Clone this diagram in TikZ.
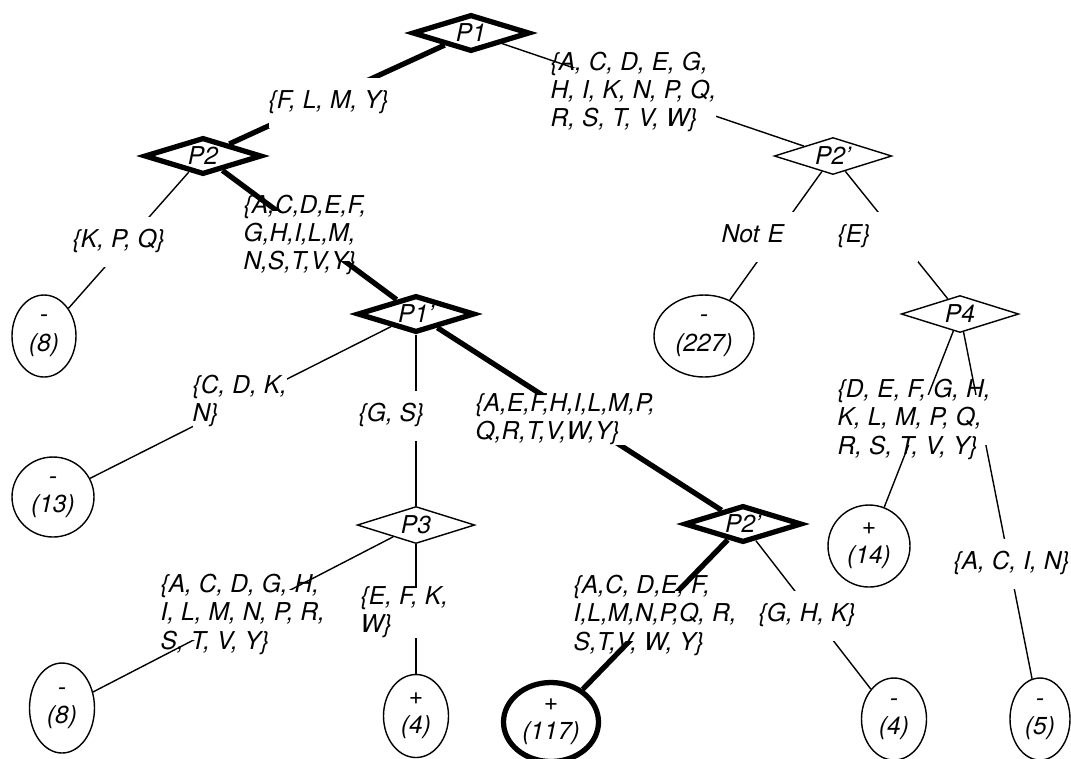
\documentclass[tikz,border=0pt]{standalone}
\usepackage{fontspec}
\setmainfont{TeX Gyre Heros}
\usetikzlibrary{shapes.geometric}

% attribute sets written on the branches, stacked left aligned
\newcommand{\branchset}[1]{\smash{\raisebox{-0.25em}{\begin{tabular}[c]{@{}l@{}}#1\end{tabular}}}}

\tikzset{
  test/.style={diamond, draw, aspect=3, inner sep=0pt, minimum width=23.5mm, minimum height=7.4mm},
  leaf/.style={ellipse, draw, inner sep=0pt, align=center},
  chosen/.style={line width=3pt},
  branch/.style={fill=white, inner sep=0pt, minimum height=10mm, anchor=west},
  wide/.style={text width=16mm, align=left}
}

\begin{document}
\begin{tikzpicture}[x=0.2mm, y=-0.2mm, line width=0.8pt,
  font=\fontsize{14}{16.2}\selectfont\itshape]
\useasboundingbox (0,0) rectangle (1071,758);

% The tests
\node [test, chosen] (p1) at (471,33) {P1};
\node [test, chosen] (p2) at (203,156) {P2};
\node [test] (p2r) at (833,156) {P2'};
\node [test, chosen] (p1p) at (416,314) {P1'};
\node [test] (p4) at (960,314) {P4};
\node [test] (p3) at (416,525) {P3};
\node [test, chosen] (p2b) at (743,524) {P2'};

% The leaves
\node [leaf, minimum width=12.8mm, minimum height=16.4mm] (l8a) at (44,336) {-\\(8)};
\node [leaf, minimum width=20mm, minimum height=16.4mm] (l227) at (704,336) {-\\(227)};
\node [leaf, minimum width=16.4mm, minimum height=16mm] (l13) at (53,497) {-\\(13)};
\node [leaf, minimum width=16.4mm, minimum height=16.4mm] (l14) at (869,546) {+\\(14)};
\node [leaf, minimum width=13mm, minimum height=18mm] (l8b) at (62,708) {-\\(8)};
\node [leaf, minimum width=13mm, minimum height=16.6mm] (l4a) at (416,716) {+\\(4)};
\node [leaf, chosen, minimum width=19mm, minimum height=15.8mm] (l117) at (551,722) {+\\(117)};
\node [leaf, minimum width=13mm, minimum height=16.4mm] (l4b) at (894,719) {-\\(4)};
\node [leaf, minimum width=12mm, minimum height=16.4mm] (l5) at (1040,719) {-\\(5)};

% Branches, the heavy ones along the chosen path
\draw [chosen] (p1) -- (p2);
\draw [chosen] (p2) -- (p1p);
\draw [chosen] (p1p) -- (p2b);
\draw [chosen] (p2b) -- (l117);
\draw (p1) -- (p2r);
\draw (p2) -- (l8a);
\draw (p1p) -- (l13);
\draw (p1p) -- (p3);
\draw (p3) -- (l8b);
\draw (p3) -- (l4a);
\draw (p2r) -- (l227);
\draw (p2r) -- (p4);
\draw (p4) -- (l14);
\draw (p4) -- (l5);
\draw (p2b) -- (l4b);

% Branch labels, blanking out the line behind them
\node [branch] (bflmy) at (268,103) {\branchset{\{F, L, M, Y\}}};
\node [branch] (bacdeg) at (550,93) {\branchset{\{A, C, D, E, G,\\H, I, K, N, P, Q,\\R, S, T, V, W\}}};
\node [branch] (bkpq) at (72,242) {\branchset{\{K, P, Q\}}};
\node [branch] (bacdef) at (243,236) {\branchset{\{A,C,D,E,F,\\G,H,I,L,M,\\N,S,T,V,Y\}}};
\node [branch, wide] (bnote) at (721,237) {\branchset{Not E}};
\node [branch, wide] (be) at (837,237) {\branchset{\{E\}}};
\node [branch] (bcdkn) at (192,402) {\branchset{\{C, D, K,\\N\}}};
\node [branch] (bgs) at (358,416) {\branchset{\{G, S\}}};
\node [branch] (baefh) at (475,420) {\branchset{\{A,E,F,H,I,L,M,P,\\Q,R,T,V,W,Y\}}};
\node [branch] (bdefgh) at (837,420) {\branchset{\{D, E, F, G, H,\\K, L, M, P, Q,\\R, S, T, V, Y\}}};
\node [branch] (bacdgh) at (160,615) {\branchset{\{A, C, D, G, H,\\I, L, M, N, P, R,\\S, T, V, Y\}}};
\node [branch] (befkw) at (360,613) {\branchset{\{E, F, K,\\W\}}};
\node [branch] (bacdef2) at (573,616) {\branchset{\{A,C, D,E, F,\\I,L,M,N,P,Q, R,\\S,T,V, W, Y\}}};
\node [branch] (bghk) at (758,616) {\branchset{\{G, H, K\}}};
\node [branch] (bacin) at (953,564) {\branchset{\{A, C, I, N\}}};

\end{tikzpicture}
\end{document}
